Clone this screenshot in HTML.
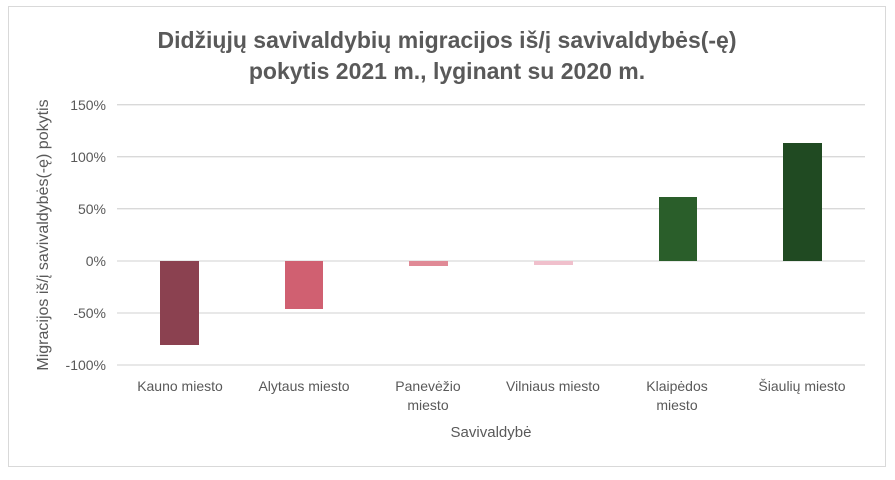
<!DOCTYPE html>
<html><head><meta charset="utf-8"><style>
body{margin:0;background:#fff;width:895px;height:475px;overflow:hidden;font-family:"Liberation Sans",sans-serif}
</style></head><body>
<svg width="895" height="475" xmlns="http://www.w3.org/2000/svg" font-family="Liberation Sans, sans-serif">
<rect x="0" y="0" width="895" height="475" fill="#fff"/>
<rect x="8.5" y="6.5" width="877" height="460" fill="none" stroke="#d9d9d9"/>
<text x="447" y="48" text-anchor="middle" font-size="23" font-weight="bold" fill="#595959">Didžiųjų savivaldybių migracijos iš/į savivaldybės(-ę)</text>
<text x="447" y="79" text-anchor="middle" font-size="23" font-weight="bold" fill="#595959">pokytis 2021 m., lyginant su 2020 m.</text>
<g stroke="#d9d9d9" stroke-width="1.3">
<line x1="117" x2="865" y1="104.7" y2="104.7"/>
<line x1="117" x2="865" y1="156.7" y2="156.7"/>
<line x1="117" x2="865" y1="208.7" y2="208.7"/>
<line x1="117" x2="865" y1="261" y2="261"/>
<line x1="117" x2="865" y1="313" y2="313"/>
<line x1="117" x2="865" y1="365" y2="365"/>
</g>
<g font-size="14" fill="#595959" text-anchor="end">
<text x="106" y="110">150%</text>
<text x="106" y="162">100%</text>
<text x="106" y="214">50%</text>
<text x="106" y="266">0%</text>
<text x="106" y="318">-50%</text>
<text x="106" y="370">-100%</text>
</g>
<rect x="160" y="261" width="39" height="84" fill="#8b4150"/>
<rect x="285" y="261" width="38" height="48" fill="#d06071"/>
<rect x="409" y="261" width="39" height="5" fill="#e08a96"/>
<rect x="534" y="261" width="39" height="4" fill="#f0c0cc"/>
<rect x="659" y="197" width="38" height="64" fill="#2a5e2a"/>
<rect x="783" y="143" width="39" height="118" fill="#204a22"/>
<g font-size="14" fill="#595959" text-anchor="middle">
<text x="180" y="391">Kauno miesto</text>
<text x="304" y="391">Alytaus miesto</text>
<text x="428" y="391">Panevėžio</text>
<text x="428" y="410">miesto</text>
<text x="553" y="391">Vilniaus miesto</text>
<text x="677" y="391">Klaipėdos</text>
<text x="677" y="410">miesto</text>
<text x="802" y="391">Šiaulių miesto</text>
<text x="491" y="437" font-size="15">Savivaldybė</text>
</g>
<text transform="translate(48,235) rotate(-90)" text-anchor="middle" font-size="16" fill="#595959">Migracijos iš/į savivaldybės(-ę) pokytis</text>
</svg>
</body></html>
